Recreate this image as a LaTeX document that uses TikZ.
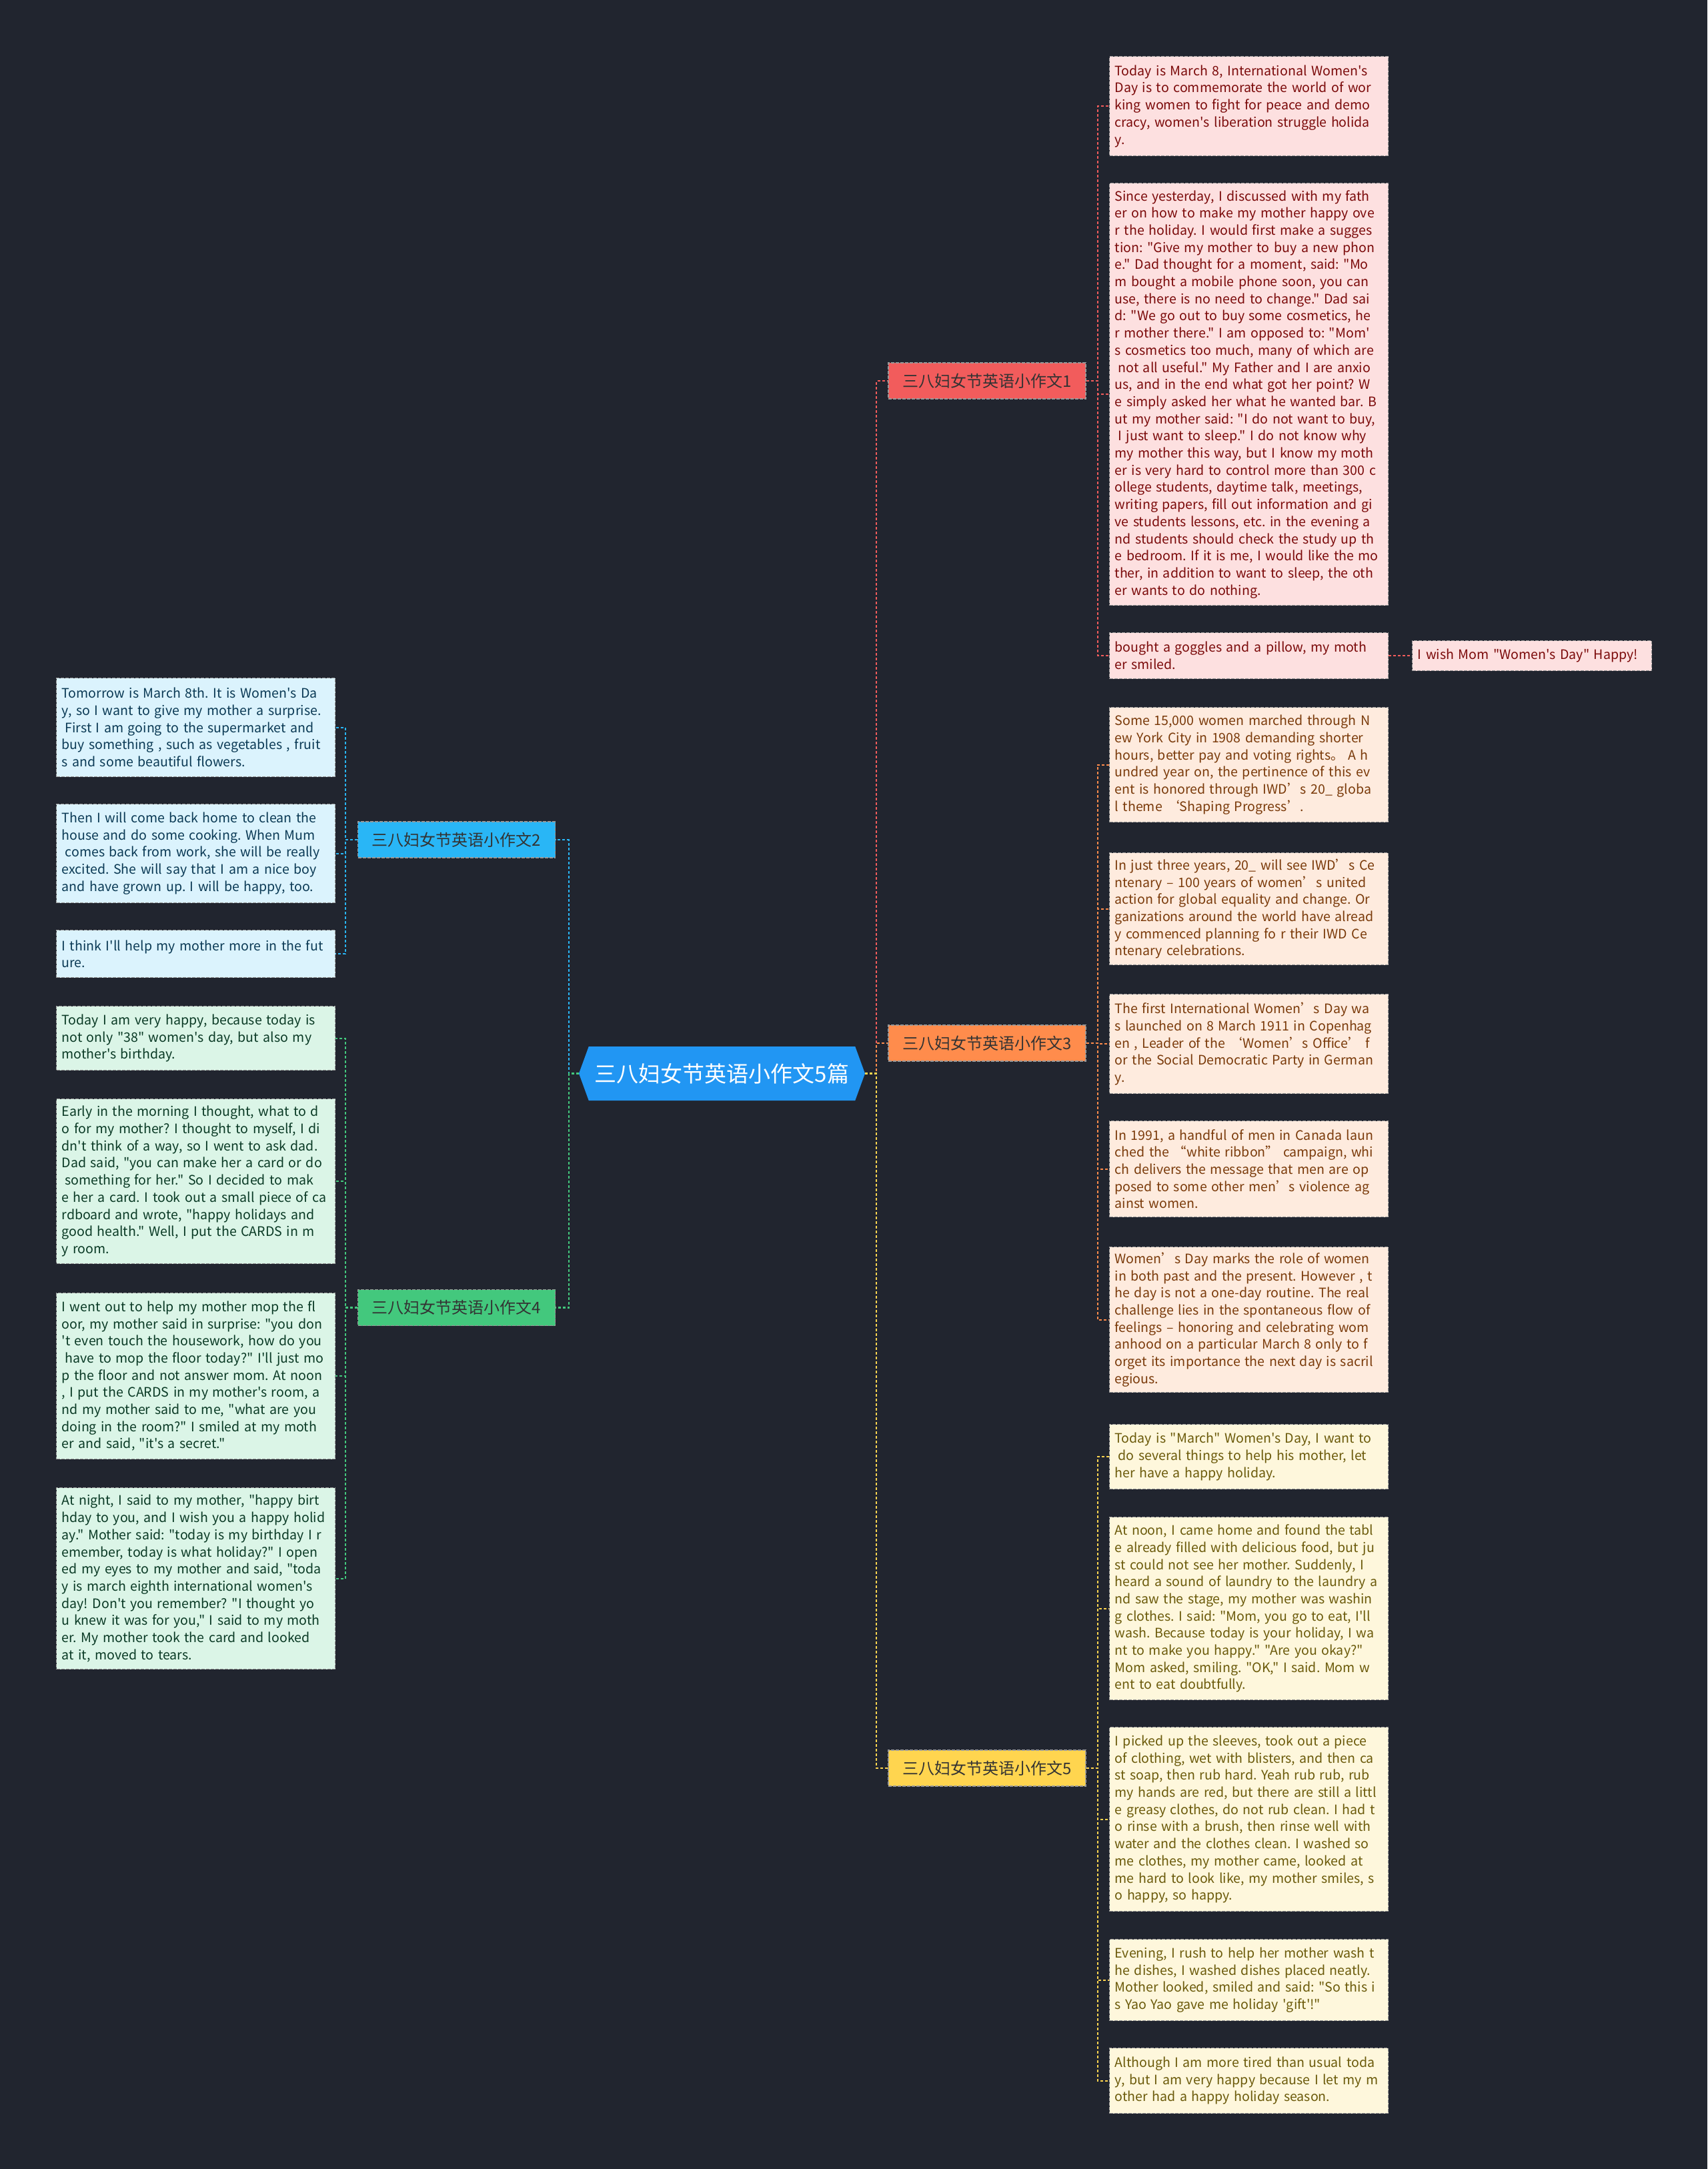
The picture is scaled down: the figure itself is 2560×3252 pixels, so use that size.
\documentclass[tikz,border=0pt]{standalone}
\usepackage{fontspec}
\newfontfamily\cjkfont{Noto Sans CJK SC}
\usetikzlibrary{positioning, shapes.symbols}
\frenchspacing

\definecolor{bgdark}{HTML}{21252F}
\definecolor{rootblue}{HTML}{2196F3}
\definecolor{brred}{HTML}{F25C5C}
\definecolor{brorange}{HTML}{FF8C4C}
\definecolor{bryellow}{HTML}{FFD54F}
\definecolor{brblue}{HTML}{29B6F6}
\definecolor{brgreen}{HTML}{43C87D}
\definecolor{leafred}{HTML}{FDE0E0}
\definecolor{leaforange}{HTML}{FEEBDE}
\definecolor{leafyellow}{HTML}{FEF7DC}
\definecolor{leafblue}{HTML}{DBF3FD}
\definecolor{leafgreen}{HTML}{DBF5E7}
\definecolor{inkred}{HTML}{7B0A0A}
\definecolor{inkorange}{HTML}{7A3A0A}
\definecolor{inkyellow}{HTML}{6B5A0A}
\definecolor{inkblue}{HTML}{0B3A55}
\definecolor{inkgreen}{HTML}{0A3A25}

\begin{document}
\begin{tikzpicture}[
    x=1pt, y=-1pt,
    leaf/.style={rectangle, draw=white!60!black, dash pattern=on 5pt off 2pt, line width=1.2pt, anchor=north west, text width=402pt, inner xsep=8pt, inner ysep=0pt, align=left, font=\cjkfont\fontsize{19.6}{25.7}\selectfont},
    leafR/.style={leaf, fill=leafred, text=inkred},
    leafO/.style={leaf, fill=leaforange, text=inkorange},
    leafY/.style={leaf, fill=leafyellow, text=inkyellow},
    leafB/.style={leaf, fill=leafblue, text=inkblue},
    leafG/.style={leaf, fill=leafgreen, text=inkgreen},
    branch/.style={rectangle, draw=white!60!black, dash pattern=on 5pt off 2pt, line width=1.2pt, minimum width=296pt, minimum height=54pt, inner sep=0pt, text=black!80, font=\cjkfont\fontsize{24}{28}\selectfont},
    edge/.style={line width=2.2pt, dash pattern=on 4pt off 3pt},
]
\fill[bgdark] (0,0) rectangle (2560,3252);

% centre
\node[shape=signal, signal to=west and east, signal pointer angle=140, fill=rootblue, text=white, minimum width=429pt, minimum height=81pt, inner sep=0pt, font=\cjkfont\fontsize{33}{36}\selectfont] (root) at (1082.5,1609.5) {三八妇女节英语小作文5篇};

% main branches
\node[branch, fill=brred] (b1) at (1480,571) {三八妇女节英语小作文1};
\node[branch, fill=brorange] (b3) at (1480,1564) {三八妇女节英语小作文3};
\node[branch, fill=bryellow] (b5) at (1480,2651) {三八妇女节英语小作文5};
\node[branch, fill=brblue] (b2) at (684.5,1259) {三八妇女节英语小作文2};
\node[branch, fill=brgreen] (b4) at (684.5,1960.5) {三八妇女节英语小作文4};

% essay 1
\node[leafR, minimum height=149pt] (r1) at (1663,84) {Today is March 8, International Women's\\Day is to commemorate the world of wor\\king women to fight for peace and demo\\cracy, women's liberation struggle holida\\y.};
\node[leafR, minimum height=633pt] (r2) at (1663,274) {Since yesterday, I discussed with my fath\\er on how to make my mother happy ove\\r the holiday. I would first make a sugges\\tion: "Give my mother to buy a new phon\\e." Dad thought for a moment, said: "Mo\\m bought a mobile phone soon, you can\\use, there is no need to change." Dad sai\\d: "We go out to buy some cosmetics, he\\r mother there." I am opposed to: "Mom'\\s cosmetics too much, many of which are\\\hspace*{5pt}not all useful." My Father and I are anxio\\us, and in the end what got her point? W\\e simply asked her what he wanted bar. B\\ut my mother said: "I do not want to buy,\\\hspace*{5pt}I just want to sleep." I do not know why\\my mother this way, but I know my moth\\er is very hard to control more than 300 c\\ollege students, daytime talk, meetings,\\writing papers, fill out information and gi\\ve students lessons, etc. in the evening a\\nd students should check the study up th\\e bedroom. If it is me, I would like the mo\\ther, in addition to want to sleep, the oth\\er wants to do nothing.};
\node[leafR, minimum height=69pt] (r3) at (1663,948) {bought a goggles and a pillow, my moth\\er smiled.};
\node[leafR, right=35pt of r3, text width=343pt, minimum height=45pt] (wish) {I wish Mom "Women's Day" Happy!};

% essay 3
\node[leafO, minimum height=172pt] (o1) at (1663,1060) {Some 15,000 women marched through N\\ew York City in 1908 demanding shorter\\hours, better pay and voting rights。 A h\\undred year on, the pertinence of this ev\\ent is honored through IWD’s 20\_ globa\\l theme ‘Shaping Progress’.};
\node[leafO, minimum height=168pt] (o2) at (1663,1278) {In just three years, 20\_ will see IWD’s Ce\\ntenary – 100 years of women’s united\\action for global equality and change. Or\\ganizations around the world have alread\\y commenced planning fo r their IWD Ce\\ntenary celebrations.};
\node[leafO, minimum height=149pt] (o3) at (1663,1490) {The first International Women’s Day wa\\s launched on 8 March 1911 in Copenhag\\en , Leader of the ‘Women’s Office’ f\\or the Social Democratic Party in German\\y.};
\node[leafO, minimum height=144pt] (o4) at (1663,1680) {In 1991, a handful of men in Canada laun\\ched the “white ribbon” campaign, whi\\ch delivers the message that men are op\\posed to some other men’s violence ag\\ainst women.};
\node[leafO, minimum height=218pt] (o5) at (1663,1869) {Women’s Day marks the role of women\\in both past and the present. However , t\\he day is not a one-day routine. The real\\challenge lies in the spontaneous flow of\\feelings – honoring and celebrating wom\\anhood on a particular March 8 only to f\\orget its importance the next day is sacril\\egious.};

% essay 5
\node[leafY, minimum height=97pt] (y1) at (1663,2135) {Today is "March" Women's Day, I want to\\\hspace*{5pt}do several things to help his mother, let\\her have a happy holiday.};
\node[leafY, minimum height=274pt] (y2) at (1663,2274) {At noon, I came home and found the tabl\\e already filled with delicious food, but ju\\st could not see her mother. Suddenly, I\\heard a sound of laundry to the laundry a\\nd saw the stage, my mother was washin\\g clothes. I said: "Mom, you go to eat, I'll\\wash. Because today is your holiday, I wa\\nt to make you happy." "Are you okay?"\\Mom asked, smiling. "OK," I said. Mom w\\ent to eat doubtfully.};
\node[leafY, minimum height=276pt] (y3) at (1663,2589) {I picked up the sleeves, took out a piece\\of clothing, wet with blisters, and then ca\\st soap, then rub hard. Yeah rub rub, rub\\my hands are red, but there are still a littl\\e greasy clothes, do not rub clean. I had t\\o rinse with a brush, then rinse well with\\water and the clothes clean. I washed so\\me clothes, my mother came, looked at\\me hard to look like, my mother smiles, s\\o happy, so happy.};
\node[leafY, minimum height=122pt] (y4) at (1663,2907) {Evening, I rush to help her mother wash t\\he dishes, I washed dishes placed neatly.\\Mother looked, smiled and said: "So this i\\s Yao Yao gave me holiday 'gift'!"};
\node[leafY, minimum height=98pt] (y5) at (1663,3070) {Although I am more tired than usual toda\\y, but I am very happy because I let my m\\other had a happy holiday season.};

% essay 2
\node[leafB, minimum height=148pt] (l1) at (84,1016) {Tomorrow is March 8th. It is Women's Da\\y, so I want to give my mother a surprise.\\\hspace*{5pt}First I am going to the supermarket and\\buy something , such as vegetables , fruit\\s and some beautiful flowers.};
\node[leafB, minimum height=148pt] (l2) at (84,1205) {Then I will come back home to clean the\\house and do some cooking. When Mum\\\hspace*{5pt}comes back from work, she will be really\\excited. She will say that I am a nice boy\\and have grown up. I will be happy, too.};
\node[leafB, minimum height=71pt] (l3) at (84,1394) {I think I'll help my mother more in the fut\\ure.};

% essay 4
\node[leafG, minimum height=96pt] (g1) at (84,1508) {Today I am very happy, because today is\\not only "38" women's day, but also my\\mother's birthday.};
\node[leafG, minimum height=247pt] (g2) at (84,1647) {Early in the morning I thought, what to d\\o for my mother? I thought to myself, I di\\dn't think of a way, so I went to ask dad.\\Dad said, "you can make her a card or do\\\hspace*{5pt}something for her." So I decided to mak\\e her a card. I took out a small piece of ca\\rdboard and wrote, "happy holidays and\\good health." Well, I put the CARDS in m\\y room.};
\node[leafG, minimum height=249pt] (g3) at (84,1938) {I went out to help my mother mop the fl\\oor, my mother said in surprise: "you don\\'t even touch the housework, how do you\\\hspace*{5pt}have to mop the floor today?" I'll just mo\\p the floor and not answer mom. At noon\\, I put the CARDS in my mother's room, a\\nd my mother said to me, "what are you\\doing in the room?" I smiled at my moth\\er and said, "it's a secret."};
\node[leafG, minimum height=272pt] (g4) at (84,2230) {At night, I said to my mother, "happy birt\\hday to you, and I wish you a happy holid\\ay." Mother said: "today is my birthday I r\\emember, today is what holiday?" I open\\ed my eyes to my mother and said, "toda\\y is march eighth international women's\\day! Don't you remember? "I thought yo\\u knew it was for you," I said to my moth\\er. My mother took the card and looked\\at it, moved to tears.};

% connectors
\draw[edge, brred] (root.east) -- ++(17,0) |- (b1.west);
\draw[edge, brorange] (root.east) -- ++(17,0) |- (b3.west);
\draw[edge, bryellow] (root.east) -- ++(17,0) |- (b5.west);
\draw[edge, brblue] (root.west) -- ++(-15,0) |- (b2.east);
\draw[edge, brgreen] (root.west) -- ++(-15,0) |- (b4.east);
\foreach \leafname in {r1, r2, r3}
  \draw[edge, brred] (b1.east) -- ++(17,0) |- (\leafname.west);
\draw[edge, brred] (r3.east) -- (wish.west);
\foreach \leafname in {o1, o2, o3, o4, o5}
  \draw[edge, brorange] (b3.east) -- ++(17,0) |- (\leafname.west);
\foreach \leafname in {y1, y2, y3, y4, y5}
  \draw[edge, bryellow] (b5.east) -- ++(17,0) |- (\leafname.west);
\foreach \leafname in {l1, l2, l3}
  \draw[edge, brblue] (b2.west) -- ++(-18,0) |- (\leafname.east);
\foreach \leafname in {g1, g2, g3, g4}
  \draw[edge, brgreen] (b4.west) -- ++(-18,0) |- (\leafname.east);
\end{tikzpicture}
\end{document}
